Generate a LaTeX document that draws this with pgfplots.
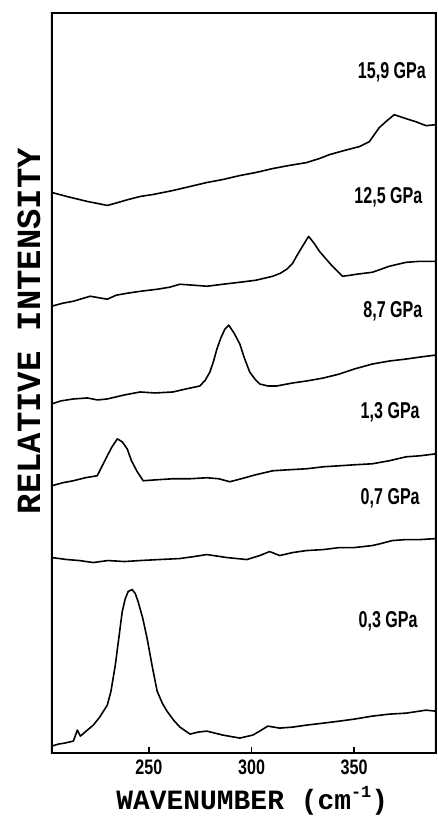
\documentclass[border=0pt]{standalone}
\usepackage{pgfplots}
\pgfplotsset{compat=1.18}
\usepackage{fontspec}
\newfontfamily\lblfont[FakeStretch=0.7]{Liberation Sans}
\newfontfamily\tkfont[FakeStretch=0.77]{Liberation Sans}
\newfontfamily\axfont{Liberation Mono}
% condensed bold labels
\newcommand{\cond}[1]{{\fontsize{23bp}{23bp}\selectfont\lblfont\bfseries #1}}
\newcommand{\tk}[1]{{\fontsize{21bp}{21bp}\selectfont\tkfont\bfseries #1}}

\begin{document}
\begin{tikzpicture}
\begin{axis}[
    at={(0,0)}, anchor=south west,
    scale only axis,
    width=385bp, height=742bp,
    xmin=202.7, xmax=389.8, ymin=0, ymax=742,
    clip=false,
    axis line style={draw=black, line width=1.8pt},
    ytick=\empty,
    xtick={250,300,350},
    xticklabels={\tk{250},\tk{300},\tk{350}},
    xtick pos=bottom, tick align=inside,
    major tick length=6bp,
    major tick style={draw=black, line width=1.5pt},
    xticklabel style={yshift=-3bp},
    xlabel={\fontsize{28bp}{28bp}\selectfont\axfont\bfseries WAVENUMBER (cm\raisebox{0.45em}{\fontsize{17bp}{17bp}\selectfont -1})},
    xlabel style={at={(axis description cs:0.522,-0.0647)}, anchor=center},
    ylabel={\fontsize{34bp}{34bp}\selectfont\axfont\bfseries RELATIVE INTENSITY},
    ylabel style={at={(axis description cs:-0.0597,0.57)}, anchor=center},
    every axis plot post/.append style={black, solid, mark=none, line width=1.6bp, line join=round},
]
% 15.9 GPa
\addplot coordinates {(202.7,562) (210,558) (220,553) (225,551) (229.7,549) (235,552) (240,555) (245.7,558)
  (252,560) (261.7,564) (270,568) (278.2,572) (286,575) (294.3,579) (302,582) (310.3,586) (318,589)
  (326.8,592) (333,596) (338,600) (345,604) (352.5,608) (357.4,613) (362.2,627) (366,634) (369.5,640)
  (375.3,636) (380,633) (385,629) (389.8,630)};
% 12.5 GPa
\addplot coordinates {(202.7,448) (208,451) (213.2,453) (221.4,458) (229.7,455) (234,459) (239.4,461) (246,463)
  (254,465) (260,467) (265.1,470) (272,469) (278.2,468) (286,470) (294.3,472) (302,474) (310.3,478)
  (314,481) (317.1,485) (320,491) (321.9,498) (324.8,508) (327.8,518) (330.5,511) (333.1,503) (336,496)
  (339.4,488) (344.3,478) (348,479) (351,480) (358.8,482) (363,485) (367,488) (375.3,492) (382,493) (389.8,493)};
% 8.7 GPa
\addplot coordinates {(202.7,350) (207,353) (213.2,355) (220,356) (225,354) (229.7,355) (238,359) (245.7,362)
  (253,361) (261.7,362) (268,365) (274.8,368) (277.5,374) (279.7,382) (281.5,393) (283.1,405) (285,416)
  (287,425) (288.9,429) (291.5,421) (294.3,410) (296.5,396) (299.1,382) (302,374) (304,370) (308,368)
  (312.2,368) (320,371) (326.8,373) (335,376) (342.8,380) (350,385) (358.8,390) (367,393) (375.3,395)
  (382,397) (389.8,399)};
% 1.3 GPa
\addplot coordinates {(202.7,268) (208,271) (213.2,273) (219,276) (224.8,278) (227,287) (229.7,298) (232,307)
  (234.6,315) (237,312) (239.4,305) (241.5,293) (244.3,282) (247.2,273) (254,274) (261.7,275) (270,275)
  (278.2,276) (284,275) (289.4,272) (295,275) (302,279) (310.3,283) (318,284) (326.8,285) (335,287)
  (342.8,288) (350,289) (358.8,290) (367,293) (375.3,297) (382,298) (389.8,300)};
% 0.7 GPa
\addplot coordinates {(202.7,196) (210,194) (216,193) (222.9,191) (230,193) (238,192) (245.7,193) (255,194)
  (265.1,195) (272,197) (278.2,199) (288,196) (297.7,194) (304,198) (308.8,202) (313.7,198) (320,201)
  (326.8,203) (335,204) (342.8,206) (350,206) (358.8,208) (363,210) (368.5,213) (375,214) (382,214) (389.8,215)};
% 0.3 GPa
\addplot coordinates {(202.7,7) (206,9) (209,10) (213.2,12) (215.1,23) (216.6,17) (220,23) (222.9,28) (226,36)
  (229.7,48) (231.5,62) (233.6,88) (235.3,115) (237,142) (238.5,155) (239.9,162) (241.8,164) (243.3,160)
  (244.7,152) (247,135) (249.1,115) (251.5,88) (254,62) (256.5,50) (258.8,42) (262,33) (265.1,26) (270,19)
  (274,21) (278.2,22) (286,18) (294.3,15) (300.6,18) (304,22) (307.9,27) (313.7,25) (320,26) (326.8,28)
  (335,30) (342.8,32) (350,34) (358.8,37) (367,39) (375.3,40) (385,43) (389.8,42)};

% frame and ticks, drawn here as well (stroke and fill of the same footprint)
\draw[black, line width=1.8pt] (rel axis cs:0,0) rectangle (rel axis cs:1,1);
\fill[black, even odd rule]
  ([shift={(-0.9pt,-0.9pt)}]rel axis cs:0,0) rectangle ([shift={(0.9pt,0.9pt)}]rel axis cs:1,1)
  ([shift={(0.9pt,0.9pt)}]rel axis cs:0,0) rectangle ([shift={(-0.9pt,-0.9pt)}]rel axis cs:1,1);
\pgfplotsinvokeforeach{250,300,350}{
  \draw[black, line width=1.5pt] (axis cs:#1,0) -- ([yshift=6bp]axis cs:#1,0);
  \fill[black] ([xshift=-0.75pt]axis cs:#1,0) rectangle ([xshift=0.75pt,yshift=6bp]axis cs:#1,0);
}

\node[anchor=east, inner sep=0pt] at (axis cs:385,683) {\cond{15,9 GPa}};
\node[anchor=east, inner sep=0pt] at (axis cs:383.3,557) {\cond{12,5 GPa}};
\node[anchor=east, inner sep=0pt] at (axis cs:383.3,443) {\cond{8,7 GPa}};
\node[anchor=east, inner sep=0pt] at (axis cs:382,342) {\cond{1,3 GPa}};
\node[anchor=east, inner sep=0pt] at (axis cs:382,255) {\cond{0,7 GPa}};
\node[anchor=east, inner sep=0pt] at (axis cs:381,132) {\cond{0,3 GPa}};
\end{axis}
\path (-52bp,-64bp) (387bp,755bp);
\end{tikzpicture}
\end{document}
